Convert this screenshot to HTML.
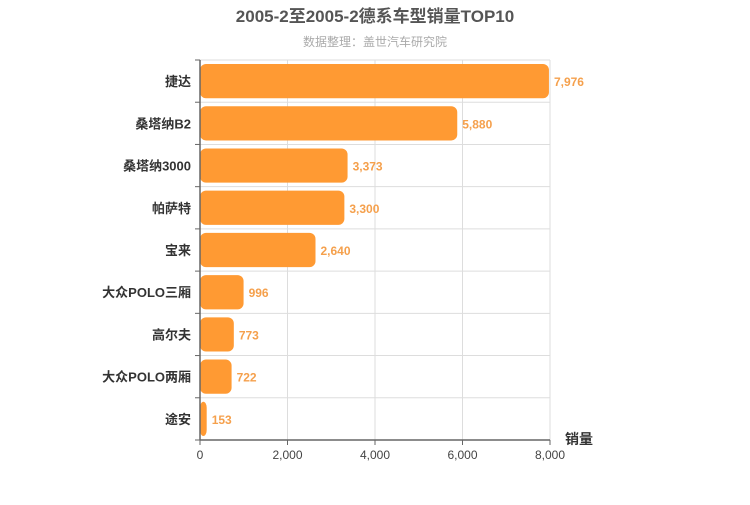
<!DOCTYPE html>
<html><head><meta charset="utf-8"><style>
body{margin:0;background:#fff;width:750px;height:500px;overflow:hidden}
text{font-family:"Liberation Sans","Noto Sans CJK SC",sans-serif}
</style></head><body>
<svg id="chart" width="750" height="500" xmlns="http://www.w3.org/2000/svg">
<text x="375" y="22" text-anchor="middle" font-size="17" font-weight="bold" fill="#555">2005-2至2005-2德系车型销量TOP10</text>
<text x="375" y="46" text-anchor="middle" font-size="12" fill="#aaa">数据整理：盖世汽车研究院</text>
<g id="grid"></g><g id="bars"></g><g id="axes"></g>
</svg>
<script>
const categories=["捷达","桑塔纳B2","桑塔纳3000","帕萨特","宝来","大众POLO三厢","高尔夫","大众POLO两厢","途安"];
const values=[7976,5880,3373,3300,2640,996,773,722,153];
const ticks=[0,2000,4000,6000,8000];
const tickLabels=["0","2,000","4,000","6,000","8,000"];
const ns="http://www.w3.org/2000/svg";
const X0=200,X1=550,Y0=60,Y1=440,MAX=8000;
const band=(Y1-Y0)/categories.length;
const xs=v=>X0+(v/MAX)*(X1-X0);
function mk(tag,attrs,parent,txt){const e=document.createElementNS(ns,tag);for(const k in attrs)e.setAttribute(k,attrs[k]);if(txt!==undefined)e.textContent=txt;document.getElementById(parent).appendChild(e);return e;}
ticks.forEach((t,i)=>{
 const g=mk('line',{x1:xs(t),x2:xs(t),y1:Y0,y2:Y1,stroke:'#ddd'},'grid');
 
 
 const l=mk('text',{x:xs(t),y:Y1+19,'text-anchor':'middle','font-size':12,fill:'#444'},'axes',tickLabels[i]);
 
 
 const tk=mk('line',{x1:xs(t),x2:xs(t),y1:Y1,y2:Y1+5,stroke:'#666'},'axes');
 
 
});
for(let i=0;i<=categories.length;i++){
 const y=Y0+i*band;
 const g=mk('line',{x1:X0,x2:X1,y1:y,y2:y,stroke:'#ddd'},'grid');
 
 
 const tk=mk('line',{x1:X0-5,x2:X0,y1:y,y2:y,stroke:'#666'},'axes');
 
 
}
categories.forEach((c,i)=>{
 const y=Y0+i*band;
 const b=mk('rect',{x:X0,y:y+4,width:xs(values[i])-X0,height:band-8,rx:6,fill:'#ff9a33'},'bars');
 
 
 const v=mk('text',{x:xs(values[i])+5,y:y+band/2+5,'font-size':12,'font-weight':'bold',fill:'#f5a04c'},'bars',values[i].toLocaleString('en-US'));
 
 
 const l=mk('text',{x:X0-9,y:y+band/2+5,'text-anchor':'end','font-size':13,'font-weight':'bold',fill:'#333'},'axes',c);
 
 
});
const ya=mk('line',{x1:X0,x2:X0,y1:Y0,y2:Y1,stroke:'#666','stroke-width':1.5},'axes');


const xa=mk('line',{x1:X0,x2:X1,y1:Y1,y2:Y1,stroke:'#666','stroke-width':1.5},'axes');


const at=mk('text',{x:565,y:444,'font-size':14,'font-weight':'bold',fill:'#333'},'axes','销量');


</script>
</body></html>
